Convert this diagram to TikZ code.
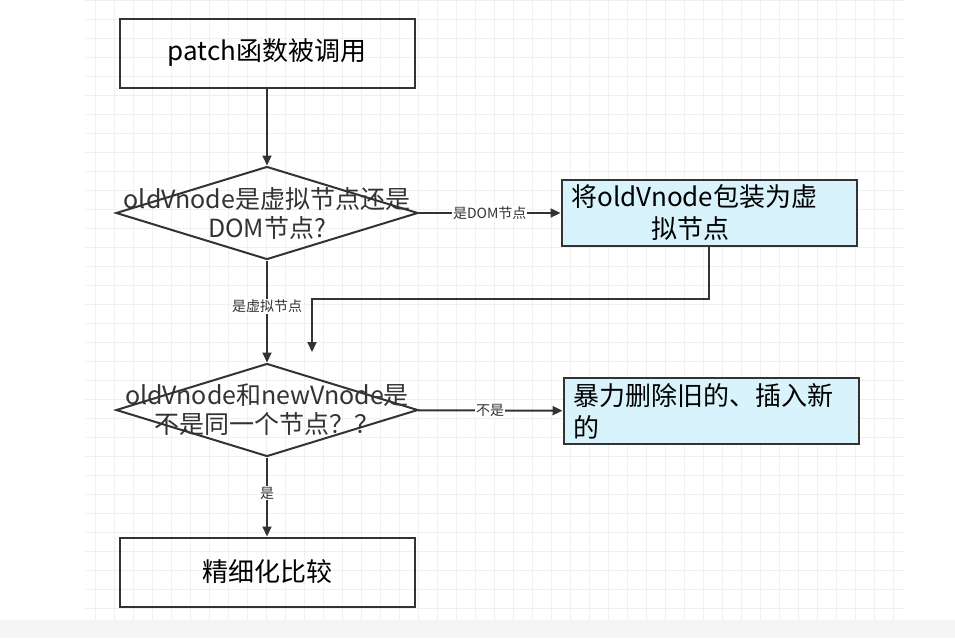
\documentclass[tikz,border=0pt]{standalone}
\usepackage{fontspec}
\setmainfont{Noto Sans CJK SC}
\usetikzlibrary{shapes.geometric, arrows.meta}

\tikzset{
    box/.style={draw=black!80, line width=2pt, minimum width=295pt, minimum height=69pt, font=\fontsize{26}{32}\selectfont, align=center},
    cbox/.style={box, fill=cyan!15, minimum height=66pt, text width=275pt, align=left, inner xsep=10pt},
    dec/.style={draw=black!80, line width=2pt, diamond, minimum width=302pt, minimum height=93pt, inner sep=0pt},
    dtext/.style={font=\fontsize{25}{29}\selectfont, align=center, text=black!80},
    arr/.style={draw=black!80, line width=2pt, -{Triangle[length=10pt, width=9pt]}},
    lbl/.style={font=\fontsize{14}{16}\selectfont, fill=white, inner sep=1pt, text=black!80}
}

\begin{document}
\begin{tikzpicture}[x=1pt, y=-1pt]
    % Background and grid
    \useasboundingbox (0,0) rectangle (955,638);
    \fill[white] (0,0) rectangle (955,638);
    \draw[black!6, line width=0.6pt, step=19pt] (85,0) grid (905,620);
    \fill[black!4] (0,620) rectangle (955,638);

    % Nodes
    \node[box] (call) at (267,53) {patch函数被调用};
    \node[dec] (isvnode) at (267,213) {};
    \node[dtext] at (267,213) {oldVnode是虚拟节点还是\\DOM节点?};
    \node[cbox] (wrap) at (709,213) {将oldVnode包装为虚\\\hspace*{80pt}拟节点};
    \node[dec] (same) at (267,410) {};
    \node[dtext] at (267,410) {oldVnode和newVnode是\\不是同一个节点？？};
    \node[cbox] (replace) at (711,411) {暴力删除旧的、插入新\\的};
    \node[box] (diff) at (267,572) {精细化比较};
    \coordinate (join) at (312,352);

    % Connectors
    \draw[arr] (call) -- (isvnode);
    \draw[arr] (isvnode) -- node[lbl] {是DOM节点} (wrap);
    \draw[arr] (isvnode) -- node[lbl, pos=0.45] {是虚拟节点} (same);
    \draw[arr] (wrap.south) |- (312,299) -- (join);
    \draw[arr] (same) -- node[lbl] {不是} (replace);
    \draw[arr] (same) -- node[lbl, pos=0.45] {是} (diff);
\end{tikzpicture}
\end{document}
